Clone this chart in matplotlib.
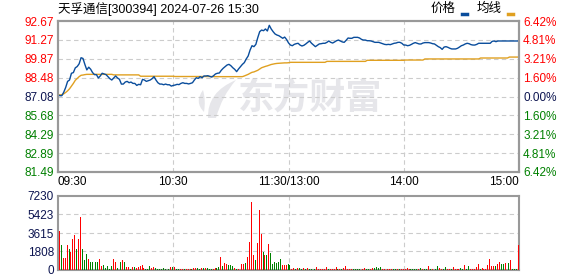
import matplotlib
matplotlib.use('Agg')
import matplotlib.pyplot as plt
from matplotlib.lines import Line2D
from matplotlib.path import Path
from matplotlib.patches import PathPatch
import numpy as np

plt.rcParams['font.family'] = ['Liberation Sans', 'Noto Sans CJK SC']

# Data
title = '天孚通信[300394] 2024-07-26 15:30'
prev_close = 87.08
price_ticks = [92.67, 91.27, 89.87, 88.48, 87.08, 85.68, 84.29, 82.89, 81.49]
pct_labels = ['6.42%', '4.81%', '3.21%', '1.60%', '0.00%', '1.60%', '3.21%', '4.81%', '6.42%']
time_pos = [0, 60, 120, 180, 240]
time_labels = ['09:30', '10:30', '11:30/13:00', '14:00', '15:00']
vol_ticks = [0, 1808, 3615, 5423, 7230]

# one price per minute, 241 minutes
price = [
    87.20, 87.14, 87.14, 87.40, 87.75, 88.20, 88.30, 88.80, 88.85, 89.20,
    89.30, 89.50, 89.95, 89.90, 89.45, 89.05, 89.25, 89.10, 88.85, 88.70,
    88.70, 88.45, 88.60, 88.80, 88.75, 88.70, 88.55, 88.40, 88.30, 88.45,
    88.60, 88.45, 88.35, 88.00, 88.00, 88.15, 88.20, 88.10, 88.15, 88.05,
    88.05, 87.90, 87.98, 87.95, 88.35, 88.30, 88.20, 88.25, 88.30, 88.40,
    88.55, 88.30, 88.10, 88.00, 88.00, 87.95, 88.00, 87.95, 87.95, 87.85,
    87.90, 87.93, 87.98, 87.96, 88.05, 88.10, 88.05, 88.05, 88.01, 88.05,
    88.10, 88.30, 88.47, 88.42, 88.55, 88.47, 88.60, 88.60, 88.62, 88.57,
    88.52, 88.62, 88.75, 88.80, 88.82, 89.02, 89.17, 89.29, 89.41, 89.46,
    89.36, 89.21, 89.09, 88.92, 89.12, 89.29, 89.46, 89.59, 89.86, 90.08,
    90.52, 90.84, 90.77, 90.94, 91.44, 91.88, 92.00, 91.95, 92.08, 91.93,
    92.35, 92.08, 91.88, 91.71, 91.63, 91.58, 91.48, 91.39, 91.48, 91.30,
    91.05, 90.89, 90.84, 90.94, 90.99, 91.02, 90.89, 90.82, 90.87, 90.97,
    91.09, 91.19, 91.02, 90.89, 90.77, 90.87, 90.97, 90.99, 91.02, 91.02,
    91.09, 91.19, 91.09, 91.04, 91.12, 91.21, 91.26, 91.19, 91.12, 91.09,
    91.24, 91.41, 91.39, 91.39, 91.46, 91.46, 91.46, 91.41, 91.31, 91.26,
    91.26, 91.21, 91.21, 91.19, 91.14, 91.09, 91.09, 91.09, 91.04, 90.99,
    90.94, 90.92, 90.94, 90.92, 90.97, 91.02, 91.04, 91.09, 91.09, 91.02,
    90.89, 90.89, 90.84, 90.87, 90.94, 91.02, 91.07, 91.02, 90.97, 90.97,
    91.04, 91.07, 91.07, 91.07, 91.04, 90.99, 90.97, 90.87, 90.77, 90.70,
    90.57, 90.74, 90.77, 90.72, 90.65, 90.60, 90.60, 90.60, 90.65, 90.74,
    90.84, 90.89, 90.97, 91.02, 90.99, 90.92, 90.89, 90.89, 90.94, 91.02,
    91.02, 91.02, 91.02, 91.02, 91.02, 91.02, 91.16, 91.19, 91.14, 91.19,
    91.19, 91.19, 91.19, 91.19, 91.19, 91.19, 91.19, 91.19, 91.19, 91.19,
    91.19,
]

avg_price = [
    87.20, 87.20, 87.22, 87.28, 87.38, 87.50, 87.65, 87.85, 88.05, 88.28,
    88.42, 88.55, 88.65, 88.67, 88.70, 88.72, 88.72, 88.72, 88.72, 88.72,
    88.72, 88.72, 88.72, 88.72, 88.72, 88.72, 88.72, 88.72, 88.72, 88.68,
    88.68, 88.68, 88.68, 88.68, 88.68, 88.68, 88.68, 88.68, 88.68, 88.68,
    88.68, 88.68, 88.68, 88.58, 88.58, 88.58, 88.58, 88.58, 88.58, 88.58,
    88.58, 88.58, 88.58, 88.58, 88.58, 88.58, 88.58, 88.58, 88.58, 88.58,
    88.58, 88.56, 88.56, 88.56, 88.56, 88.56, 88.56, 88.56, 88.56, 88.56,
    88.56, 88.56, 88.56, 88.56, 88.56, 88.56, 88.56, 88.56, 88.56, 88.56,
    88.56, 88.55, 88.55, 88.55, 88.55, 88.55, 88.55, 88.55, 88.55, 88.55,
    88.55, 88.55, 88.55, 88.55, 88.55, 88.55, 88.55, 88.60, 88.66, 88.72,
    88.80, 88.87, 88.90, 88.96, 89.02, 89.12, 89.21, 89.26, 89.31, 89.35,
    89.40, 89.45, 89.48, 89.51, 89.53, 89.54, 89.55, 89.56, 89.57, 89.57,
    89.58, 89.61, 89.61, 89.61, 89.61, 89.61, 89.61, 89.61, 89.61, 89.61,
    89.61, 89.61, 89.61, 89.61, 89.61, 89.61, 89.61, 89.61, 89.61, 89.61,
    89.68, 89.68, 89.68, 89.68, 89.68, 89.68, 89.68, 89.68, 89.68, 89.68,
    89.68, 89.68, 89.68, 89.68, 89.68, 89.68, 89.68, 89.68, 89.68, 89.68,
    89.68, 89.76, 89.76, 89.76, 89.76, 89.76, 89.76, 89.76, 89.76, 89.76,
    89.76, 89.76, 89.76, 89.76, 89.76, 89.76, 89.76, 89.76, 89.76, 89.76,
    89.76, 89.78, 89.78, 89.78, 89.78, 89.78, 89.78, 89.78, 89.78, 89.78,
    89.78, 89.86, 89.86, 89.86, 89.86, 89.86, 89.86, 89.86, 89.86, 89.86,
    89.86, 89.86, 89.86, 89.86, 89.86, 89.86, 89.86, 89.86, 89.86, 89.86,
    89.86, 89.86, 89.86, 89.86, 89.86, 89.86, 89.86, 89.86, 89.86, 89.86,
    89.93, 89.93, 89.93, 89.93, 89.93, 89.93, 89.93, 89.93, 89.93, 89.93,
    89.93, 89.93, 89.93, 89.93, 89.93, 90.00, 90.00, 90.00, 90.00, 90.00,
    90.00,
]

# volume per minute (9:31 .. 15:00)
volume = [
    3811, 2443, 1173, 1173, 2443, 2052, 1791, 3029, 3420, 2052,
    3029, 5211, 2052, 977, 1563, 1075, 814, 814, 977, 814,
    814, 1075, 391, 489, 163, 391, 98, 391, 1075, 814,
    163, 326, 814, 977, 814, 260, 260, 98, 260, 260,
    163, 260, 391, 489, 163, 98, 98, 391, 228, 260,
    195, 98, 98, 98, 195, 98, 98, 98, 260, 260,
    260, 98, 98, 130, 98, 98, 130, 98, 98, 130,
    163, 228, 228, 98, 163, 163, 163, 195, 98, 98,
    130, 228, 228, 260, 1270, 391, 684, 586, 489, 489,
    391, 195, 98, 98, 391, 586, 586, 684, 1303, 2768,
    6677, 1466, 977, 2671, 5863, 3518, 1759, 1466, 1466, 2540,
    1661, 586, 782, 684, 782, 1075, 489, 489, 489, 586,
    489, 98, 163, 98, 163, 195, 98, 195, 98, 163,
    98, 98, 195, 98, 293, 98, 98, 98, 98, 293,
    98, 98, 98, 98, 293, 98, 98, 98, 195, 391,
    98, 98, 98, 98, 98, 98, 98, 98, 98, 195,
    98, 98, 98, 195, 195, 293, 195, 260, 98, 98,
    98, 98, 98, 98, 98, 98, 98, 130, 98, 98,
    98, 195, 98, 98, 98, 98, 98, 98, 195, 98,
    98, 98, 391, 98, 98, 293, 98, 391, 195, 98,
    98, 293, 98, 98, 98, 293, 98, 98, 98, 195,
    98, 489, 98, 391, 98, 98, 98, 293, 586, 98,
    195, 98, 98, 489, 1075, 391, 391, 391, 586, 782,
    586, 586, 684, 879, 684, 977, 98, 98, 98, 2443,
]
# 'r' = up bar, 'g' = down bar
vol_dir = (
    "rgrrrgrrrg" "rrgggrgggg" "grrgggggrr" "grgrgrrgrg"
    "rrrrrgggrr" "ggggggggrg" "rggrrgrrrg" "rrggrgrggg"
    "rrggrgrrgg" "grgrrrrgrr" "rrgrrrgrgr" "ggggggrrrg"
    "grrgrggrgr" "ggggrrrrrr" "grrrrgrgrr" "rrrgggggrr"
    "ggrrggggrr" "rrrrggrgrr" "rrrggggrgr" "ggrgrgggrr"
    "ggrrgrrrrg" "grggrrrrrg" "rrrrrrrgrr" "ggrrgrgggr"
)

RED = '#ff0000'
GREEN = '#008000'
NAVY = '#0c1450'
GRID = '#cccccc'
BORDER = '#999999'
WMARK = '#e6e6ea'

fig = plt.figure(figsize=(5.78, 2.76), dpi=100)
fig.patch.set_facecolor('white')
W, H = 578, 276
ax = fig.add_axes([58 / W, 104 / H, 461 / W, 151 / H])
axv = fig.add_axes([58 / W, 6 / H, 461 / W, 74 / H])


def fpx(x, y):
    # figure pixel -> figure fraction
    return (x / W, 1 - y / H)


# watermark: swoosh logo + text
blade = Path([fpx(208, 118), fpx(207, 92), fpx(236, 80), fpx(222, 96), fpx(216, 118), fpx(208, 118)],
             [Path.MOVETO, Path.CURVE3, Path.CURVE3, Path.CURVE3, Path.CURVE3, Path.CLOSEPOLY])
leaf = Path([fpx(203, 90), fpx(194, 102), fpx(204, 112), fpx(206, 100), fpx(203, 90)],
            [Path.MOVETO, Path.CURVE3, Path.CURVE3, Path.CURVE3, Path.CURVE3])
for p in (blade, leaf):
    ax.add_patch(PathPatch(p, transform=fig.transFigure, facecolor=WMARK,
                           edgecolor='none', zorder=0))
ax.text(0.547, 0.49, '东方财富', transform=ax.transAxes, fontsize=26,
        color=WMARK, fontweight='bold', family='Noto Sans CJK SC',
        ha='center', va='center', zorder=0)

ax.set_xlim(0, 240)
ax.set_ylim(price_ticks[-1], price_ticks[0])
for v in price_ticks[1:-1]:
    ax.axhline(v, color=GRID, lw=0.8, ls=(0, (4, 3)), zorder=1)
for t in time_pos[1:-1]:
    ax.axvline(t, color=GRID, lw=0.8, ls=(0, (4, 3)), zorder=1)

minutes = np.arange(len(price))
ax.plot(minutes, avg_price, color='#e0a020', lw=1.0, zorder=3)
ax.plot(minutes, price, color='#0a4d9c', lw=1.0, zorder=4)

label_colors = [RED if v > prev_close else (NAVY if v == prev_close else GREEN) for v in price_ticks]
ax.set_yticks(price_ticks)
ax.set_yticklabels([f'{v:.2f}' for v in price_ticks], fontsize=8.5)
for lab, c in zip(ax.get_yticklabels(), label_colors):
    lab.set_color(c)
ax.set_xticks([])
ax.tick_params(axis='y', length=0, pad=3)

ax2 = ax.twinx()
ax2.set_ylim(ax.get_ylim())
ax2.set_yticks(price_ticks)
ax2.set_yticklabels(pct_labels, fontsize=8.5)
for lab, c in zip(ax2.get_yticklabels(), label_colors):
    lab.set_color(c)
ax2.tick_params(axis='y', length=0, pad=3)

for a in (ax, ax2, axv):
    for s in a.spines.values():
        s.set_color(BORDER)
        s.set_linewidth(1.5)

# time labels under the price panel
aligns = ['left', 'center', 'center', 'center', 'right']
for t, lab, ha in zip(time_pos, time_labels, aligns):
    ax.text(t, -0.064, lab, transform=ax.get_xaxis_transform(), ha=ha,
            va='center', fontsize=8.5, color='black')

# volume panel
bar_x = np.arange(1, len(volume) + 1) - 0.5
bar_colors = [RED if d == 'r' else GREEN for d in vol_dir]
axv.bar(bar_x, volume, width=0.5, align='edge', color=bar_colors, zorder=3)
axv.set_xlim(0, 240)
axv.set_ylim(0, vol_ticks[-1])
for v in vol_ticks[1:-1]:
    axv.axhline(v, color=GRID, lw=0.8, ls=(0, (4, 3)), zorder=1)
for t in time_pos[1:-1]:
    axv.axvline(t, color=GRID, lw=0.8, ls=(0, (4, 3)), zorder=1)
axv.set_xticks([])
axv.set_yticks(vol_ticks)
axv.set_yticklabels([str(v) for v in vol_ticks], fontsize=8.5, color=NAVY)
axv.tick_params(axis='y', length=0, pad=3)

# title and legend
fig.text(58 / W, 1 - 9 / H, title, fontsize=9, color='black', va='center', ha='left')
fig.text(431 / W, 1 - 9 / H, '价格', fontsize=9, color='black', va='center', ha='left')
fig.add_artist(Line2D([462 / W, 467 / W], [1 - 14 / H] * 2, transform=fig.transFigure,
                      color='#0a4d9c', lw=2.5))
fig.text(477 / W, 1 - 9 / H, '均线', fontsize=9, color='black', va='center', ha='left')
fig.add_artist(Line2D([508 / W, 513 / W], [1 - 14 / H] * 2, transform=fig.transFigure,
                      color='#e0a020', lw=2.5))

fig.savefig('out.png', dpi=100)
